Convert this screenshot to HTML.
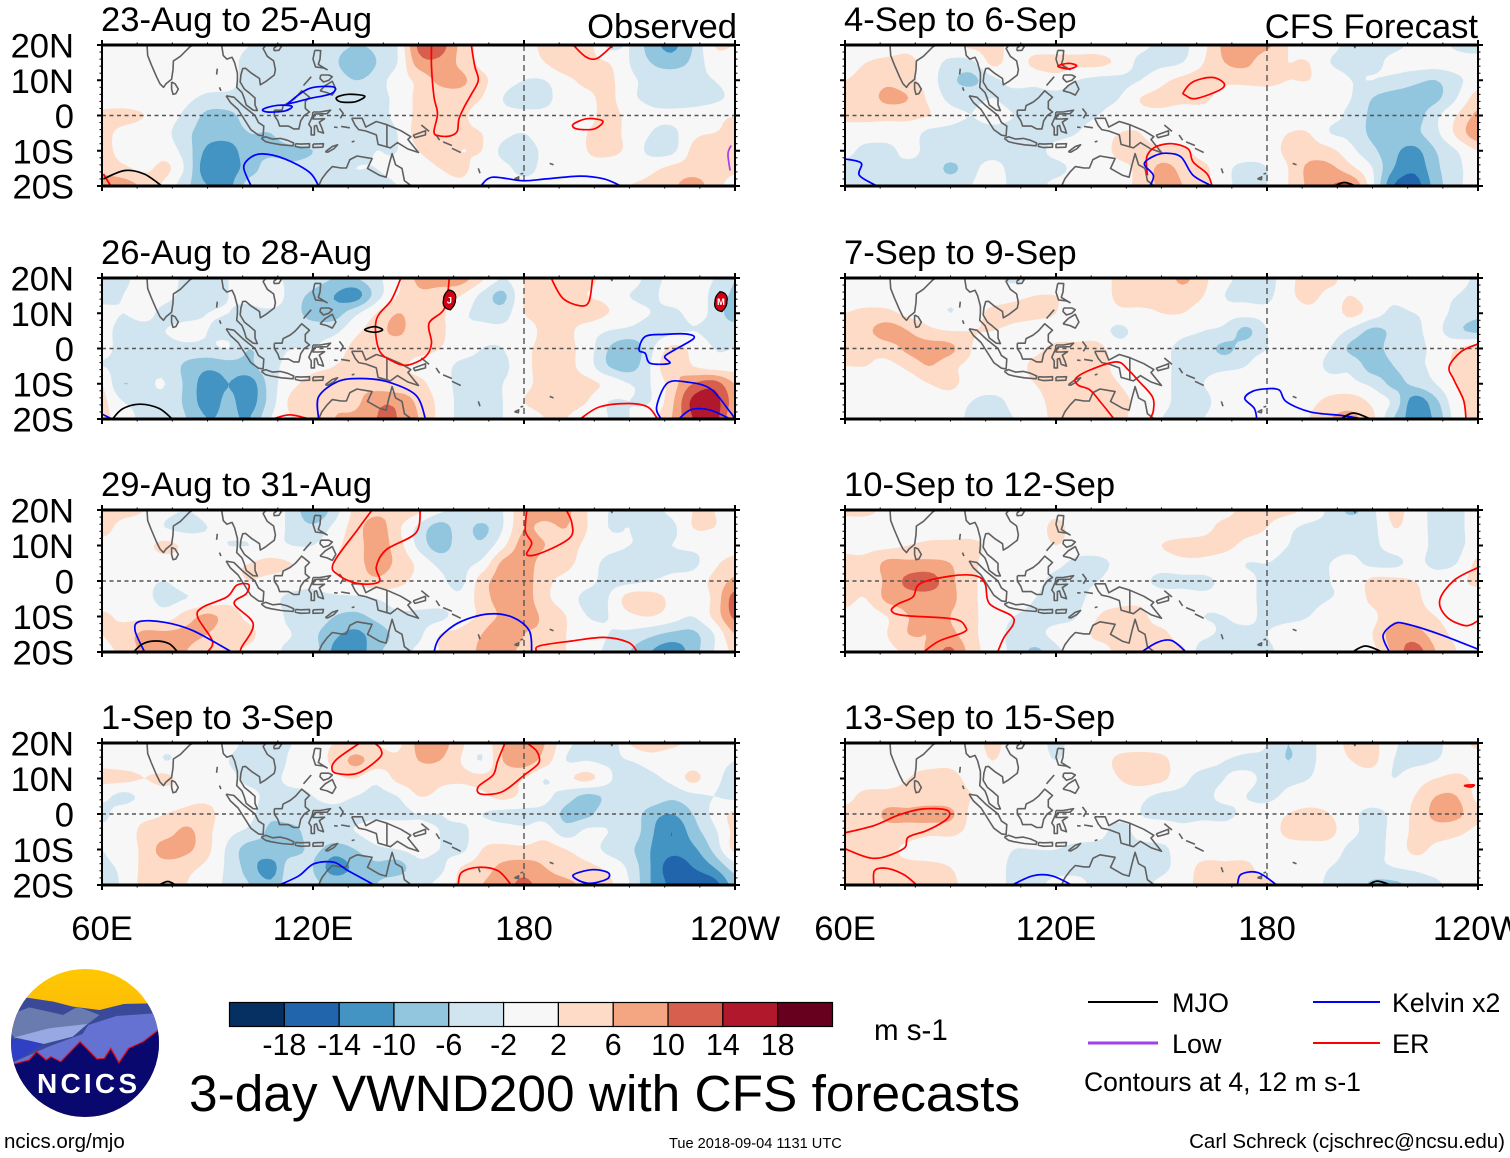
<!DOCTYPE html>
<html lang="en">
<head>
<meta charset="utf-8">
<title>3-day VWND200 with CFS forecasts</title>
<style>
html,body{margin:0;padding:0;background:#fff;width:1510px;height:1158px;overflow:hidden}
svg{display:block}
text{font-family:"Liberation Sans",Arial,sans-serif;fill:#000}
</style>
</head>
<body>
<svg id="chart" xmlns="http://www.w3.org/2000/svg" width="1510" height="1158" viewBox="0 0 1510 1158">
  <rect x="0" y="0" width="1510" height="1158" fill="#fff"/>
  <defs>
    <clipPath id="logoClip"><ellipse cx="85" cy="1043" rx="74" ry="74"/></clipPath>
    <linearGradient id="logoSky" x1="0" y1="0" x2="0" y2="1"><stop offset="0" stop-color="#ffc800"/><stop offset="1" stop-color="#f2a31c"/></linearGradient>
  </defs>
  <g id="panels"></g>
  <g id="colorbar"></g>
  <text x="874" y="1040" font-size="29.5">m s-1</text>
  <text x="189" y="1111" font-size="51.4">3-day VWND200 with CFS forecasts</text>

  <g clip-path="url(#logoClip)">
    <rect x="10" y="968" width="150" height="150" fill="url(#logoSky)"/>
    <g transform="translate(0 960) scale(0.4854 0.3333)">
      <polygon fill="#3b4a98" points="20,152 55,113 110,125 150,140 205,150 255,132 310,130 335,170 335,320 20,320"/>
      <polygon fill="#6a7bb0" points="20,210 20,165 60,142 100,155 130,165 160,140 205,165 175,198 100,205 30,235"/>
      <polygon fill="#98a8e2" points="30,232 100,205 180,192 150,230 90,252 60,242"/>
      <polygon fill="#6672d2" points="30,305 100,260 170,222 182,195 240,168 320,160 335,210 335,325 30,325"/>
      <polygon fill="#3040c4" points="20,235 60,242 90,252 30,305 20,310"/>
      <polygon fill="#08086e" stroke="#e01020" stroke-width="3" points="28,312 60,300 75,275 95,300 105,290 125,305 165,245 200,297 215,295 228,265 245,308 265,265 295,245 328,208 345,208 345,485 20,485 20,312"/>
    </g>
  </g>
  <text x="37" y="1093" font-size="28" font-weight="bold" textLength="100" lengthAdjust="spacing" style="fill:#fff">NCICS</text>

  <g>
    <line x1="1088" y1="1002" x2="1158" y2="1002" stroke="#000" stroke-width="2"/>
    <text x="1172" y="1012" font-size="27">MJO</text>
    <line x1="1313" y1="1002" x2="1380" y2="1002" stroke="#0000ff" stroke-width="2"/>
    <text x="1392" y="1012" font-size="26.7">Kelvin x2</text>
    <line x1="1088" y1="1043" x2="1158" y2="1043" stroke="#a040f0" stroke-width="3"/>
    <text x="1172" y="1053" font-size="27">Low</text>
    <line x1="1313" y1="1043" x2="1380" y2="1043" stroke="#ff0000" stroke-width="2"/>
    <text x="1392" y="1053" font-size="27">ER</text>
    <text x="1084" y="1091" font-size="26.5">Contours at 4, 12 m s-1</text>
  </g>
  <text x="4" y="1148" font-size="20.5">ncics.org/mjo</text>
  <text x="669" y="1148" font-size="14.6">Tue 2018-09-04 1131 UTC</text>
  <text x="1505" y="1148" font-size="20.5" text-anchor="end">Carl Schreck (cjschrec@ncsu.edu)</text>
</svg>
<script>
// Grid axes of the wind fields (degrees)
const gridLons = [60,66,72,78,84,90,96,102,108,114,120,126,132,138,144,150,156,162,168,174,180,186,192,198,204,210,216,222,228,234,240];
const gridLats = [20,15,10,5,0,-5,-10,-15,-20];

// Tick labels
const lonTicks = [60,120,180,240];
const lonTickLabels = ['60E','120E','180','120W'];
const latTicks = [20,10,0,-10,-20];
const latTickLabels = ['20N','10N','0','10S','20S'];

// Colour scale
const bandLevels = [2,6,10,14,18];
const colorbarColors = ['#053061','#2166ac','#4393c3','#92c5de','#d1e5f0','#f7f7f7','#fddbc7','#f4a582','#d6604d','#b2182b','#67001f'];
const colorbarLabels = ['-18','-14','-10','-6','-2','2','6','10','14','18'];

// Panel titles
const panelTitles = ['23-Aug to 25-Aug','26-Aug to 28-Aug','29-Aug to 31-Aug','1-Sep to 3-Sep','4-Sep to 6-Sep','7-Sep to 9-Sep','10-Sep to 12-Sep','13-Sep to 15-Sep'];

// VWND200 anomaly fields (m/s)
const fieldAug23 = [
[0,0,0,0,0,0,-1,-2,-3,-2,-3,-4,-6,-5,-2,11,12,5,1,2,1,3,6,4,-3,-2,-8,-11,-6,2,2],
[0,0,1,2,0,0,-1,-3,-3,-4,-3,-5,-10,-6,-2,8,9,5,1,1,0,2,5,3,2,-2,-6,-8,-5,0,0],
[0,0,0,1,1,0,-1,-3,-3,-4,-3,-3,-6,-4,0,3,7,7,3,0,-2,-2,1,3,3,-1,-3,-3,-3,-2,0],
[0,0,0,0,-1,-3,-3,-3,-3,-4,-4,-3,-3,-3,-1,3,4,4,2,-2,-4,-3,0,1,3,-1,-3,-4,-4,-3,-1],
[3,3,2,0,-3,-7,-7,-4,-3,-3,-3,-3,-3,-3,-1,3,4,3,0,-1,-1,-1,0,1,3,1,-1,-1,0,1,2],
[3,1,0,-1,-5,-8,-8,-6,-6,-3,-3,-3,-3,-3,-2,4,6,3,2,-1,-2,0,0,2,3,1,-2,-3,1,2,3],
[4,0,-2,0,-4,-11,-12,-7,-7,-7,-6,-3,-3,-2,-2,2,4,2,2,-3,-4,-1,0,2,3,1,-3,-3,3,6,4],
[5,3,1,3,-3,-13,-12,-8,-4,-5,-4,-3,-2,-2,-1,0,2,3,0,-1,-3,-1,0,1,0,0,1,3,4,4,3],
[8,8,5,1,-5,-10,-11,-4,-4,-4,-3,-2,-3,-3,-2,0,0,1,0,-1,-1,-1,-1,0,0,2,3,5,8,4,0]];
const fieldAug26 = [
[-3,-3,0,0,-3,-3,-2,-1,-1,-3,-4,-6,-6,-3,1,7,8,8,3,-2,2,3,6,3,1,0,-3,-1,-1,-2,-6],
[-3,-2,0,-1,-3,-3,-2,-1,1,-4,-7,-10,-12,-4,2,5,4,2,-3,-7,2,3,4,2,1,-2,-3,0,0,-3,-7],
[-1,-2,-1,-3,-3,-2,-2,-3,-3,-4,-8,-8,-3,2,6,4,3,-1,-3,-4,2,3,3,4,2,0,-2,-3,-1,-3,-9],
[-1,-3,-3,-2,-1,-2,-3,-3,-3,-3,-3,-3,1,4,7,3,3,-1,-1,-1,0,3,3,0,-2,-3,-4,-3,-2,-3,-3],
[-1,-3,-3,-3,-3,-3,-2,-6,-3,-2,-2,0,3,4,3,3,2,0,-2,-2,1,3,3,0,-6,-9,-3,3,1,-2,-2],
[-2,-3,-3,-3,-7,-9,-8,-7,-3,-1,1,2,3,3,3,1,0,-3,-3,-3,1,3,3,0,-6,-8,-2,6,2,0,0],
[2,-6,-3,-2,-7,-12,-10,-12,-4,1,3,3,5,4,3,3,0,-3,-3,-2,1,3,3,3,1,-2,-2,4,10,12,6],
[3,-2,-3,-3,-7,-12,-9,-12,-4,3,3,5,5,9,9,5,1,-3,-3,-2,2,3,3,2,-2,-2,-2,5,15,16,8],
[3,0,-3,-3,-6,-10,-9,-10,-2,2,3,6,7,10,10,6,1,-3,-3,-2,0,2,2,0,-2,-2,1,6,14,16,6]];
const fieldAug29 = [
[3,3,2,-1,-2,-1,-1,0,-1,-3,-10,-4,3,5,5,3,-1,-3,-2,-2,6,8,7,2,-2,-2,-3,-1,2,2,0],
[3,1,0,-2,-3,-2,-1,0,0,-3,-5,-1,4,8,3,-3,-8,-4,-7,-2,6,5,6,2,-2,-2,-3,-3,2,2,0],
[1,1,1,3,1,-1,-2,-2,-1,-2,-2,1,4,8,4,-3,-8,-4,-5,1,8,6,4,1,-1,-2,-2,-2,-1,-1,0],
[0,0,0,0,0,-1,1,2,3,2,1,2,4,8,5,1,-3,-3,-1,7,8,4,3,0,-3,-3,-3,-3,-3,1,4],
[0,0,-1,-2,0,1,1,2,1,0,-1,1,3,5,3,1,-1,-3,4,8,8,3,1,-1,-3,-3,-2,-1,0,3,7],
[-1,0,-1,-3,-2,-1,1,0,-1,-3,-3,-3,-3,-2,0,0,0,-1,4,8,8,3,0,-3,-2,4,4,1,-1,3,12],
[3,1,1,0,4,7,4,1,0,-3,-3,-6,-7,-5,-3,-3,-3,0,3,7,8,5,2,-2,-2,1,2,0,-2,3,11],
[2,4,7,7,7,6,3,3,-1,-2,-5,-9,-11,-8,-5,-3,2,3,6,10,6,5,2,0,-2,-3,-5,-7,-7,-2,6],
[1,3,7,8,6,3,3,1,-1,-3,-4,-11,-13,-7,-4,-1,2,3,7,7,5,3,2,0,-3,-6,-10,-13,-8,-2,3]];
const fieldSep1 = [
[1,0,0,-1,-1,-1,-1,-3,-4,-2,1,2,3,2,1,7,8,3,-1,6,8,6,-1,-3,-5,2,4,3,1,0,-1],
[1,0,0,-2,-1,-1,-2,-4,-5,-1,0,3,7,4,3,6,6,2,-2,6,8,4,-2,-2,-3,-2,0,-1,0,-1,-2],
[3,3,2,3,0,-1,-1,-3,-3,-1,-1,1,2,-1,3,4,3,3,3,3,2,-2,1,3,-1,-6,-3,-1,3,-1,-3],
[-1,-3,-1,0,1,1,0,-1,-3,-3,-2,-1,-2,-3,-2,2,1,-1,1,3,1,-1,-4,-7,-5,-3,-3,-5,-3,-2,-3],
[-3,0,1,2,3,3,0,-1,-5,-3,-3,-3,-3,-3,-3,-2,-2,-1,-2,-3,-3,-3,-7,-7,-3,-3,-8,-10,-6,-1,3],
[-1,0,3,4,7,3,-1,-3,-7,-8,-3,-3,-2,0,0,-1,-2,-3,0,0,-1,0,-4,-1,-2,-3,-9,-14,-8,-3,3],
[-2,0,3,8,7,3,-3,-8,-7,-8,-5,-8,-6,-3,-2,-1,-2,-3,2,3,3,4,2,0,-3,-5,-10,-13,-11,-5,3],
[-3,-1,3,4,3,1,-3,-8,-12,-3,-6,-12,-9,-7,-8,-3,-3,2,4,7,8,6,4,3,1,-3,-10,-16,-14,-10,-4],
[-6,-1,3,3,2,0,-3,-6,-9,-3,-5,-7,-7,-6,-3,-3,-1,3,6,8,11,8,7,5,3,-2,-10,-15,-17,-16,-8]];
const fieldSep4 = [
[0,0,0,1,0,1,3,3,1,0,-1,0,0,-1,-1,-3,-3,1,7,8,7,2,0,-1,-3,-3,-3,-1,0,-3,-4],
[1,2,3,3,0,-3,-3,3,0,3,4,3,3,1,-3,-3,-2,2,6,7,3,2,2,-2,-3,-3,-1,0,0,0,0],
[2,3,5,3,0,-5,-7,-3,-1,-1,0,-2,-3,-3,-2,1,3,4,3,3,3,2,2,0,-2,-2,-3,-5,-6,-3,0],
[3,4,7,6,1,-3,-3,-2,-3,-3,-3,-3,-3,-2,2,3,3,3,0,0,0,0,0,-1,-2,-6,-8,-8,-7,-2,4],
[3,3,3,3,2,-1,-2,-1,-2,-3,-3,-3,-2,0,1,1,0,0,0,0,0,0,0,-1,-3,-7,-9,-8,-3,2,7],
[0,0,0,0,-3,-3,-3,-3,-3,-3,-3,-2,0,2,2,0,0,0,0,0,0,2,2,-2,-3,-7,-8,-7,-3,3,9],
[-1,-3,-3,-1,-3,-3,-3,-3,-3,-3,-1,0,0,3,3,3,3,0,0,0,0,3,4,3,-1,-5,-9,-11,-6,-2,2],
[-3,-3,-2,-3,-3,-7,-3,-1,-3,-3,-3,-1,0,1,3,7,5,3,-1,-3,-2,2,7,7,3,-2,-10,-13,-7,-3,0],
[-3,-3,-3,-3,-3,-3,-2,0,-3,-3,-1,0,0,1,3,7,6,3,-1,-3,-2,2,7,10,10,-1,-14,-16,-8,-3,0]];
const fieldSep7 = [
[0,0,0,1,0,0,0,-1,-3,-1,0,0,0,3,3,3,7,3,-1,-3,-4,1,3,3,0,0,0,0,0,0,-3],
[0,0,0,0,0,-1,0,0,1,2,2,1,0,3,4,3,4,2,-2,-3,-3,1,3,1,2,0,-1,1,-1,-2,-4],
[2,3,3,1,0,-2,0,3,3,3,2,-1,0,1,1,2,2,0,-1,-1,-1,0,1,0,3,0,-3,-2,-1,-3,-5],
[3,5,8,6,3,2,2,2,1,0,0,0,0,-3,0,0,-1,-2,-3,-7,-2,0,0,0,-3,-7,-5,-3,-1,-5,-7],
[5,3,4,7,8,7,2,0,0,1,3,3,3,0,0,-1,-3,-4,-7,-4,-2,0,0,-2,-7,-8,-4,-3,-1,2,4],
[2,2,1,3,6,3,1,0,0,3,3,3,3,1,0,-1,-3,-3,-3,-2,0,-1,0,-3,-3,-8,-6,-3,-1,3,3],
[0,0,0,0,2,3,0,0,0,2,3,4,3,2,0,-1,-3,-2,0,0,0,-2,0,0,-1,-3,-7,-5,-2,2,3],
[0,0,0,0,0,0,-2,-3,-1,1,3,4,4,3,1,-1,-3,-3,0,0,0,0,1,3,4,1,-3,-12,-7,1,3],
[-1,0,0,0,0,0,-3,-3,-2,0,3,3,3,3,0,-2,-3,-2,0,0,0,0,2,6,7,3,-6,-12,-9,0,3]];
const fieldSep10 = [
[3,3,1,0,0,-2,0,1,0,0,1,0,0,0,0,0,0,1,1,3,3,3,1,-3,-7,-3,3,0,-3,-3,0],
[0,0,0,0,0,0,0,0,0,0,3,0,0,0,0,0,0,1,3,3,2,-1,-3,-3,-3,-3,2,0,-3,-3,0],
[1,1,1,2,3,3,3,1,0,0,2,0,0,0,0,2,3,3,3,1,0,-2,-3,-3,-3,-3,0,0,-3,-3,0],
[3,3,7,7,7,6,3,0,0,0,-1,-3,-3,-1,0,0,1,1,0,-2,-2,-3,-3,-2,-1,-3,-3,-1,-3,-2,3],
[3,3,7,11,12,7,3,0,0,-1,-3,-3,-2,0,-1,-3,-3,-3,-1,-1,-3,-3,-3,-2,-1,3,3,2,0,1,3],
[3,2,7,8,8,7,3,0,0,-2,-3,-3,0,1,1,0,0,-1,-1,-1,-3,-3,-3,-2,-1,3,4,3,0,0,0],
[1,0,2,6,7,6,3,0,-2,-3,-3,-2,2,3,3,0,0,-2,-2,-1,-3,-3,-2,0,0,1,5,4,2,0,0],
[0,0,2,6,6,7,3,0,-3,-3,-1,0,3,3,3,3,0,-1,-3,-3,-2,0,0,0,0,2,8,8,4,1,0],
[0,0,1,3,7,11,4,0,-3,-7,-3,0,0,3,3,3,3,-5,-6,-3,-3,0,0,0,0,1,7,12,6,2,0]];
const fieldSep13 = [
[0,0,0,0,0,-1,0,3,0,0,-3,0,0,0,0,0,0,0,1,0,-2,-6,-3,0,3,3,-1,-5,-3,0,3],
[0,0,0,1,1,1,0,2,0,0,-2,0,0,3,4,3,0,-1,-2,-3,-3,-6,-3,0,2,3,-2,-3,-2,0,0],
[0,0,1,2,3,3,1,0,0,0,0,0,0,2,4,3,-1,-3,-2,-1,-3,-3,-2,0,0,0,-2,0,2,3,1],
[1,3,3,3,3,3,2,0,0,0,0,0,0,0,-1,-3,-3,-3,-1,-2,-3,-1,0,0,0,0,0,2,6,6,1],
[3,3,7,7,8,7,1,0,0,0,0,0,-1,-1,-2,-3,-3,-3,-3,-1,0,2,3,2,-1,-3,-1,3,7,7,3],
[3,3,4,4,3,3,1,0,0,0,0,0,-1,-3,-1,0,-1,0,0,0,0,3,4,3,-1,-3,-1,3,4,3,1],
[4,3,3,1,0,0,0,0,-2,-2,-2,-3,-3,-3,-3,-3,0,0,0,0,0,0,0,0,-3,-3,-1,3,1,0,0],
[3,3,3,3,3,2,0,0,-3,-3,-3,-3,-3,-3,-3,-3,0,3,3,3,0,0,0,-2,-3,-3,-2,-1,0,0,0],
[3,3,3,3,3,3,0,0,-3,-3,-1,-1,-3,-3,-3,-1,1,3,4,3,3,0,0,-3,-3,-7,-7,-5,-3,0,0]];

// Wave-filtered contours, lon/lat vertices
const contoursAug23 = [
{wave:'er',closed:false,pts:[[165,20],[166,14],[167,10],[165,6],[163,2.4],[161.5,-1],[161,-4.5],[159,-5.8],[156,-5.8],[154.4,-4.7],[155.4,0.5],[154.4,5.3],[153.7,13.8],[153.7,20]]},
{wave:'er',closed:false,pts:[[194,20],[197.5,16.7],[200.8,16.2],[205.3,20]]},
{wave:'er',closed:true,pts:[[194,-2.5],[198,-0.9],[202.4,-1.6],[200,-3.8],[195,-3.8]]},
{wave:'er',closed:false,pts:[[60.4,-16.6],[62.5,-20]]},
{wave:'kelvin',closed:true,pts:[[105.8,1.8],[110,2.9],[114,2.6],[112,1.3],[107,1]]},
{wave:'kelvin',closed:true,pts:[[113.4,3.9],[119,7.7],[125.8,8.1],[125.2,6.2],[119,4.8],[113.4,3.4]]},
{wave:'kelvin',closed:false,pts:[[102.4,-20],[100.3,-14.7],[102.4,-11.8],[105.8,-10.9],[112,-12.3],[119,-16.1],[121.6,-20]]},
{wave:'kelvin',closed:false,pts:[[167.7,-20],[171,-17.5],[179.4,-18.5],[186.3,-18],[196,-17.2],[202.8,-18],[207.6,-20]]},
{wave:'mjo',closed:true,pts:[[126.7,5.1],[130,6],[134.7,5.5],[132,3.9],[127.8,3.9]]},
{wave:'mjo',closed:false,pts:[[60.4,-18],[66.5,-15.6],[72,-16.6],[77,-20]]},
{wave:'low',closed:false,pts:[[238.9,-8.5],[238,-10.9],[238.6,-15.6]]}];
const contoursAug26 = [
{wave:'er',closed:false,pts:[[145,20],[142.3,13.8],[138,8.1],[138.8,-0.4],[143,-3.8],[147,-4.7],[152,-2.3],[153.7,1.5],[153,7.2],[157.4,11.4],[158.8,20]]},
{wave:'er',closed:false,pts:[[187.7,20],[191,14.3],[196,12.1],[198.5,13.4],[199.5,20]]},
{wave:'er',closed:false,pts:[[108.6,-20],[113.4,-18.8],[118.9,-20]]},
{wave:'er',closed:false,pts:[[196,-20],[201.4,-16.6],[209.7,-15.6],[215.2,-16.6],[218,-20]]},
{wave:'mjo',closed:true,pts:[[134.7,5.3],[137.5,6.2],[139.8,5.3],[137.5,4.6]]},
{wave:'mjo',closed:false,pts:[[63,-20],[65.9,-17.1],[70.7,-15.8],[76.2,-17],[80,-20]]},
{wave:'kelvin',closed:false,pts:[[60,-18.6],[62.8,-20]]},
{wave:'kelvin',closed:false,pts:[[121.6,-20],[121.6,-13.7],[127,-9.4],[133.4,-8.5],[141,-9.4],[149.2,-13.2],[152,-20]]},
{wave:'kelvin',closed:false,pts:[[219,-20],[217.7,-16.6],[220.7,-9.9],[226.2,-9.5],[233,-11.4],[238.6,-18],[240,-20]]},
{wave:'kelvin',closed:false,pts:[[224,-20],[227.6,-17.3],[233,-17.5],[238.6,-20]]},
{wave:'kelvin',closed:true,pts:[[214.5,3.4],[220,4],[226.2,4.1],[228.3,2.9],[222.8,-0.4],[220,-2.3],[221.4,-4.2],[215.9,-4.2],[214.5,-1.4],[212.7,-0.4]]}];
const contoursAug29 = [
{wave:'er',closed:false,pts:[[136.8,20],[132.7,14.5],[125.8,5],[127.2,1.7],[132.7,-0.7],[138.8,-0.2],[138,4],[140.8,8.8],[149.2,13.5],[150.5,20]]},
{wave:'er',closed:false,pts:[[180.8,20],[180.4,14],[182.2,10.7],[180.8,7.4],[184.9,7.9],[193,12.1],[193.6,16.4],[192,20]]},
{wave:'er',closed:false,pts:[[90,-20],[91.4,-16.9],[87.2,-10.2],[88.6,-7.4],[95.5,-4.5],[98.3,-1.2],[101.7,-1],[101,-3.6],[97.6,-6.4],[103,-12.1],[99.6,-18.8],[99.6,-20]]},
{wave:'er',closed:false,pts:[[183.6,-20],[184.3,-18.3],[193.6,-16.9],[202.8,-15.9],[209.7,-17.3],[212.2,-20]]},
{wave:'kelvin',closed:false,pts:[[72.1,-20],[69.4,-14],[70.7,-11.4],[77.6,-11.6],[85.9,-14],[96.9,-20]]},
{wave:'kelvin',closed:false,pts:[[154.4,-20],[156,-16],[161.7,-11.6],[169.8,-9.3],[176.7,-10.2],[181.5,-14],[182.2,-20]]},
{wave:'mjo',closed:false,pts:[[69,-20],[71.4,-17.8],[74.9,-16.9],[79,-17.6],[81.5,-20]]}];
const contoursSep1 = [
{wave:'er',closed:false,pts:[[133.3,20],[127.2,15.8],[125.4,13.4],[126.5,11.5],[132.7,11.5],[138.9,15.8],[139.3,18.2],[137.5,20]]},
{wave:'er',closed:false,pts:[[174.6,20],[172.5,14.9],[171.2,11],[167,7.7],[167.8,5.6],[173.9,6.3],[180.1,11],[184.2,14.4],[183.6,17.7],[180.8,20]]},
{wave:'er',closed:false,pts:[[161.3,-20],[162.2,-16.5],[167,-15],[172.6,-16],[176.4,-20]]},
{wave:'kelvin',closed:false,pts:[[110.4,-20],[116,-17.4],[120.3,-14],[126,-13.6],[130,-16],[137.5,-20]]},
{wave:'kelvin',closed:true,pts:[[193.9,-17.3],[199.4,-15.7],[203.9,-16.5],[203.5,-18.4],[198,-19.5]]},
{wave:'mjo',closed:false,pts:[[76.2,-20],[78.7,-19],[81,-20]]}];
const contoursSep4 = [
{wave:'er',closed:true,pts:[[120.5,14],[123.6,14.8],[125.9,14.1],[123.6,13.2]]},
{wave:'er',closed:true,pts:[[156.3,6.7],[159,9.6],[164.4,10.8],[167.8,9.1],[166.5,7.2],[159.7,4.8],[156.7,5.8]]},
{wave:'er',closed:false,pts:[[146,-17],[145.8,-11.8],[148.1,-9],[152.9,-8],[157.6,-9.5],[159,-13.2],[163,-16.6],[164.4,-20]]},
{wave:'kelvin',closed:false,pts:[[146.7,-20],[147.7,-17],[145.1,-13.7],[148.1,-11.4],[151.5,-10.7],[155.6,-11.8],[159,-17],[164.4,-20]]},
{wave:'kelvin',closed:false,pts:[[60,-12.3],[64.6,-13.5],[64.1,-17],[69.1,-20]]},
{wave:'mjo',closed:false,pts:[[199.2,-20],[202,-19],[205.3,-20]]}];
const contoursSep7 = [
{wave:'er',closed:false,pts:[[136.5,-20],[133,-15.6],[129.7,-11.8],[126.3,-10.4],[125.6,-8.5],[129.7,-6.1],[137.2,-3.8],[140.6,-6.1],[143.3,-9],[147.4,-13.7],[147.7,-17.6],[146.7,-20]]},
{wave:'er',closed:false,pts:[[240,1.3],[235.2,-0.9],[231.8,-5.2],[233.2,-9],[235.9,-14.7],[236.6,-20]]},
{wave:'kelvin',closed:false,pts:[[177.1,-20],[176.4,-17],[173.7,-14.2],[176,-12.1],[180.1,-11.4],[183.5,-11.8],[185.5,-15.1],[192.3,-18],[201.2,-19],[207.3,-20]]},
{wave:'mjo',closed:false,pts:[[201,-20],[204.6,-18.3],[209.4,-20]]}];
const contoursSep10 = [
{wave:'er',closed:false,pts:[[82.3,-20],[86.8,-16.9],[93.6,-14.5],[94.3,-13],[90.9,-10.7],[76.6,-9.7],[73.2,-8.3],[75.2,-6.4],[79.3,-4.5],[81.4,-0.7],[90.2,1.4],[97,1.5],[99.8,-0.7],[101.1,-6.4],[107.2,-9.7],[107.9,-12.1],[105.2,-15.9],[103.4,-20]]},
{wave:'er',closed:false,pts:[[240,3.8],[233.2,0.2],[229.1,-5.5],[231.2,-10.2],[236.6,-12.6],[240,-11.2]]},
{wave:'kelvin',closed:false,pts:[[144.3,-20],[148.8,-17.3],[152.9,-16.8],[157,-20]]},
{wave:'kelvin',closed:false,pts:[[214.8,-20],[213,-15.4],[216.1,-12.1],[219.6,-12.1],[229.1,-15],[240,-19.2]]},
{wave:'mjo',closed:false,pts:[[204.3,-20],[208,-18.3],[212.8,-20]]}];
const contoursSep13 = [
{wave:'er',closed:false,pts:[[60,-5.3],[68.4,-3.2],[75.2,-0.3],[82,1.4],[88.9,1.1],[89.1,-1.3],[83.4,-4.6],[78,-6.5],[76.6,-9.8],[68.4,-12.5],[60,-9.8]]},
{wave:'er',closed:false,pts:[[68.2,-20],[68.4,-16],[71.8,-15.3],[76.6,-17],[80.4,-20]]},
{wave:'er',closed:true,pts:[[236.2,8],[238.9,8.2],[238,7.6]]},
{wave:'kelvin',closed:false,pts:[[107.5,-20],[113.4,-17.4],[118.8,-17.4],[124.5,-20]]},
{wave:'kelvin',closed:false,pts:[[171.6,-20],[172.6,-17],[177.4,-16.5],[182.8,-20]]},
{wave:'mjo',closed:false,pts:[[208.7,-20],[211.4,-18.9],[215.2,-20]]}];

// Tropical cyclones in the 26-Aug panel
const stormNames = ['J','M'];
const stormLons = [158.8,236];
const stormLats = [13.8,13.3];

// Coastlines (lon/lat)
const coastIndia = [[72.8,20],[73,17],[74,14.5],[75.5,11],[76.5,9],[77.5,8],[78.2,9],[79.8,10.3],[80.2,13],[80.3,15.5],[82.3,16.8],[85,19.5],[86,20]];
const coastSriLanka = [[79.8,9.5],[80.8,9],[81.7,7.5],[81,6.2],[80.2,6],[79.8,7.5],[79.8,9.5]];
const coastIndochina = [[94,20],[94.5,17],[95.5,16],[97,16.5],[97.7,15],[98.5,12],[98.5,10],[98.3,8],[99.8,6.5],[100.4,5],[101,3],[103,1.5],[104.2,1.4],[103.5,3],[103.5,5],[102,6.3],[100.5,7.5],[99.3,9.5],[99.5,11.5],[100,13.3],[100.8,13.4],[102.5,12],[104.8,10.5],[105,8.7],[106.5,9.6],[109,11.5],[109.3,13],[108.8,15.5],[107,16.8],[105.8,19],[106.7,20]];
const coastHainan = [[108.8,19],[110,20],[111,19.6],[110.3,18.5],[109,18.4],[108.8,19]];
const coastSumatra = [[95.3,5.6],[97.5,5.2],[100,2.8],[103.5,0],[104.5,-2],[106,-3],[105.8,-5.8],[104.5,-5.6],[102.3,-4],[100.4,-1],[98.7,1.7],[96.5,3.7],[95.3,5.6]];
const coastJava = [[105.3,-6.5],[106.5,-6],[108.5,-6.7],[110.7,-6.5],[112.7,-7],[114.5,-7.8],[114.3,-8.6],[111,-8.3],[108,-7.8],[106.5,-7.4],[105.3,-6.5]];
const coastSundaA = [[115,-8],[116.5,-8.1],[119,-8],[119,-9],[116.5,-9.1],[115,-8.8],[115,-8]];
const coastFlores = [[120,-8.1],[123,-8],[122.8,-9],[120,-9.1],[120,-8.1]];
const coastTimor = [[123.5,-10.3],[125.5,-8.8],[127,-8.3],[126,-9.4],[124.2,-10.4],[123.5,-10.3]];
const coastBorneo = [[109,1.5],[111.2,1.5],[111.5,2.8],[113.5,3.8],[115,5],[116.8,7],[119,5.2],[117.8,4],[117.8,2],[119,1],[117.5,0],[116.5,-1.5],[116,-3.8],[114.5,-3.8],[113,-3],[110.5,-3],[110,-1.5],[109,0],[109,1.5]];
const coastSulawesi = [[120,1],[122,1],[125,1.5],[124,0.5],[120.5,0.4],[120,-1],[121.5,-1],[123.3,-0.9],[121.8,-1.9],[122.5,-3.5],[123,-5],[121.5,-4.5],[121,-2.8],[120.4,-3],[120.4,-5.5],[119.5,-5.5],[119.5,-3.5],[118.8,-2.5],[119.8,-0.3],[120,1]];
const coastLuzon = [[120.5,18.5],[122.2,18.4],[122,16],[121.5,14.5],[124,13],[123,13.5],[120.7,13.8],[120,16],[120.5,18.5]];
const coastMindanao = [[122,7],[123.5,8.5],[125.5,9.7],[126.5,7.5],[125.5,5.8],[124,6.5],[122,7]];
const coastVisayas = [[122.2,11.5],[124.5,11.5],[125.5,11],[124.5,10],[123,9.5],[122,10.5],[122.2,11.5]];
const coastPalawan = [[117.3,8.5],[119.5,11]];
const coastNewGuinea = [[131,-0.8],[134,-0.8],[135,-3.3],[138,-1.7],[141,-2.6],[145,-4.3],[147.8,-6],[147,-6.8],[150,-10.5],[147,-9.5],[144,-7.7],[142,-9.2],[138.5,-8.2],[138,-5.5],[135,-4.4],[133,-4],[132,-2.8],[131,-0.8]];
const borderPapua = [[141,-2.6],[141,-9.1]];
const coastNewBritain = [[148.5,-5.6],[152,-4.3],[152,-5.5],[149,-6.3],[148.5,-5.6]];
const coastNewIreland = [[150.8,-2.7],[153,-4.5]];
const coastSolomonA = [[155,-5.5],[156,-7]];
const coastSolomonB = [[157,-7.5],[159.5,-8.5]];
const coastSolomonC = [[159.5,-9.3],[161,-10],[162,-10.5]];
const coastVanuatu = [[167,-15],[167.5,-16.4]];
const coastFiji = [[177.3,-18],[178.5,-17.4],[178.4,-18.2],[177.3,-18]];
const coastFijiB = [[179,-16.6],[179.8,-16.4]];
const coastSamoa = [[187.3,-13.6],[188.4,-14]];
const coastHawaii = [[204.6,20],[205,19.3],[205.2,20]];
const coastAndaman = [[92.8,13.3],[92.6,11.6]];
const coastNicobar = [[93.4,8],[93.8,7]];
const coastHalmahera = [[127.5,2],[128.6,0.6],[127.8,-0.8]];
const coastSeram = [[128,-3.1],[130.5,-3.5]];
const coastBuru = [[126,-3.3],[127,-3.4]];
const coastBanda = [[131,-7.5],[131.8,-7.3]];
const coastAustralia = [[121.6,-20],[122.5,-18],[124,-16],[125.5,-14.5],[128,-14.9],[129.5,-14.9],[130.5,-12.5],[132.5,-11.5],[135.5,-12],[136.8,-12.2],[135.5,-15],[139,-17],[140.8,-17.5],[141.6,-14],[142.5,-10.8],[143.5,-14],[145.3,-15],[146,-18.5],[148,-20]];

const coastlines = [coastIndia,coastSriLanka,coastIndochina,coastHainan,coastSumatra,coastJava,coastSundaA,coastFlores,coastTimor,coastBorneo,coastSulawesi,coastLuzon,coastMindanao,coastVisayas,coastPalawan,coastNewGuinea,borderPapua,coastNewBritain,coastNewIreland,coastSolomonA,coastSolomonB,coastSolomonC,coastVanuatu,coastFiji,coastFijiB,coastSamoa,coastHawaii,coastAndaman,coastNicobar,coastHalmahera,coastSeram,coastBuru,coastBanda,coastAustralia];

const panelFields = [fieldAug23,fieldAug26,fieldAug29,fieldSep1,fieldSep4,fieldSep7,fieldSep10,fieldSep13];
const panelContours = [contoursAug23,contoursAug26,contoursAug29,contoursSep1,contoursSep4,contoursSep7,contoursSep10,contoursSep13];

const NS = 'http://www.w3.org/2000/svg';
const PANEL_W = 633;
const FRAME_LEFT = [102,845];
const FRAME_TOP = [45,278,510,743];
const FRAME_BOTTOM = [186,419,652,885];
const WAVE_COLOR = {er:'#ff0000',kelvin:'#0000ff',mjo:'#000000',low:'#a040f0'};
const SUB = 5;

function make(tag, attrs, parent){
  const el = document.createElementNS(NS, tag);
  for (const k in attrs) el.setAttribute(k, attrs[k]);
  parent.appendChild(el);
  return el;
}
function xAxis(lon, left){ return left + (lon - 60) / 180 * PANEL_W; }
function yAxis(lat, top, bottom){ return top + (20 - lat) / 40 * (bottom - top); }

function cubic(a,b,c,d,t){
  return b + 0.5*t*(c-a + t*(2*a-5*b+4*c-d + t*(3*(b-c)+d-a)));
}
function upsample(field){
  const nr = field.length, nc = field[0].length, out = [];
  const at = (r,c)=>field[Math.max(0,Math.min(nr-1,r))][Math.max(0,Math.min(nc-1,c))];
  for (let j=0;j<=(nr-1)*SUB;j++){
    const r0=Math.min(Math.floor(j/SUB),nr-2), ty=j/SUB-r0, row=[];
    for (let i=0;i<=(nc-1)*SUB;i++){
      const c0=Math.min(Math.floor(i/SUB),nc-2), tx=i/SUB-c0, col=[];
      for (let q=-1;q<=2;q++){
        col.push(cubic(at(r0+q,c0-1),at(r0+q,c0),at(r0+q,c0+1),at(r0+q,c0+2),tx));
      }
      row.push(cubic(col[0],col[1],col[2],col[3],ty));
    }
    out.push(row);
  }
  return out;
}
function bandPath(grid, level, sign, left, top, bottom){
  const nj=grid.length-1, ni=grid[0].length-1;
  const dx=PANEL_W/ni, dy=(bottom-top)/nj;
  const parts=[];
  for (let j=0;j<nj;j++){
    for (let i=0;i<ni;i++){
      const corners=[[i,j],[i+1,j],[i+1,j+1],[i,j+1]].map(p=>({x:p[0],y:p[1],v:sign*grid[p[1]][p[0]]-level}));
      if (corners.every(c=>c.v<0)) continue;
      const poly=[];
      for (let k=0;k<4;k++){
        const a=corners[k], b=corners[(k+1)%4];
        if (a.v>=0) poly.push([a.x,a.y]);
        if ((a.v>=0)!==(b.v>=0)){
          const t=a.v/(a.v-b.v);
          poly.push([a.x+(b.x-a.x)*t,a.y+(b.y-a.y)*t]);
        }
      }
      parts.push('M'+poly.map(p=>(left+p[0]*dx).toFixed(1)+' '+(top+p[1]*dy).toFixed(1)).join('L')+'Z');
    }
  }
  return parts.join('');
}
function smoothPath(pts, closed, left, top, bottom){
  const P=pts.map(p=>[xAxis(p[0],left),yAxis(p[1],top,bottom)]);
  const n=P.length;
  const get=i=>closed?P[(i+n)%n]:P[Math.max(0,Math.min(n-1,i))];
  let d='M'+P[0][0].toFixed(1)+' '+P[0][1].toFixed(1);
  const last=closed?n:n-1;
  for (let i=0;i<last;i++){
    const p0=get(i-1),p1=get(i),p2=get(i+1),p3=get(i+2);
    d+='C'+(p1[0]+(p2[0]-p0[0])/6).toFixed(1)+' '+(p1[1]+(p2[1]-p0[1])/6).toFixed(1)+' '+
      (p2[0]-(p3[0]-p1[0])/6).toFixed(1)+' '+(p2[1]-(p3[1]-p1[1])/6).toFixed(1)+' '+
      p2[0].toFixed(1)+' '+p2[1].toFixed(1);
  }
  return closed?d+'Z':d;
}
function straightPath(pts,left,top,bottom){
  return 'M'+pts.map(p=>xAxis(p[0],left).toFixed(1)+' '+yAxis(p[1],top,bottom).toFixed(1)).join('L');
}

const root = document.getElementById('panels');
const defs = document.querySelector('defs');

panelFields.forEach((field, idx)=>{
  const colIdx = idx < 4 ? 0 : 1;
  const rowIdx = idx % 4;
  const left = FRAME_LEFT[colIdx], top = FRAME_TOP[rowIdx], bottom = FRAME_BOTTOM[rowIdx];
  const right = left + PANEL_W;

  const g = make('g', {}, root);
  
  

  const cp = make('clipPath', {id:'clip'+idx}, defs);
  make('rect', {x:left,y:top,width:PANEL_W,height:bottom-top}, cp);

  const bg = make('rect', {x:left,y:top,width:PANEL_W,height:bottom-top,fill:colorbarColors[5]}, g);
  
  

  const inner = make('g', {'clip-path':'url(#clip'+idx+')'}, g);
  
  

  const grid = upsample(field);
  bandLevels.forEach((level, li)=>{
    const pos = make('path', {d:bandPath(grid,level,1,left,top,bottom),fill:colorbarColors[6+li]}, inner);
    
    
    const neg = make('path', {d:bandPath(grid,level,-1,left,top,bottom),fill:colorbarColors[4-li]}, inner);
    
    
  });

  coastlines.forEach(line=>{
    const c = make('path', {d:straightPath(line,left,top,bottom),fill:'none',stroke:'#606060','stroke-width':1.6,'stroke-linejoin':'round'}, inner);
    
    
  });

  const eq = make('line', {x1:left,x2:right,y1:yAxis(0,top,bottom),y2:yAxis(0,top,bottom),stroke:'#555','stroke-width':1.4,'stroke-dasharray':'4 3.5'}, inner);
  
  
  const dl = make('line', {x1:xAxis(180,left),x2:xAxis(180,left),y1:top,y2:bottom,stroke:'#555','stroke-width':1.4,'stroke-dasharray':'6 4'}, inner);
  
  

  panelContours[idx].forEach(ct=>{
    const p = make('path', {d:smoothPath(ct.pts,ct.closed,left,top,bottom),fill:'none',stroke:WAVE_COLOR[ct.wave],'stroke-width':1.7}, inner);
    
    
  });

  if (idx === 1){
    stormNames.forEach((nm,si)=>{
      const cx = xAxis(stormLons[si],left), cy = yAxis(stormLats[si],top,bottom);
      const s = make('g', {}, g);
      
      
      make('path', {d:`M${cx-1} ${cy-10}C${cx+6} ${cy-9} ${cx+7} ${cy-4} ${cx+6} ${cy}C${cx+6} ${cy+5} ${cx+3} ${cy+8} ${cx+1} ${cy+10}C${cx-6} ${cy+9} ${cx-7} ${cy+4} ${cx-6} ${cy}C${cx-6} ${cy-5} ${cx-3} ${cy-8} ${cx-1} ${cy-10}Z`,fill:'#d00010',stroke:'#000','stroke-width':1.2}, s);
      const lb = make('text', {x:cx,y:cy+3.5,'font-size':9.5,'font-weight':'bold','text-anchor':'middle',style:'fill:#fff'}, s);
      lb.textContent = nm;
    });
  }

  // Axes frame
  const frame = make('g', {stroke:'#000'}, g);
  
  
  make('line', {x1:left-1,x2:right+1,y1:top,y2:top,'stroke-width':3}, frame);
  make('line', {x1:left-1,x2:right+1,y1:bottom,y2:bottom,'stroke-width':3}, frame);
  make('line', {x1:left,x2:left,y1:top,y2:bottom,'stroke-width':2}, frame);
  make('line', {x1:right,x2:right,y1:top,y2:bottom,'stroke-width':2}, frame);
  for (let lon=60;lon<=240;lon+=10){
    const major = lonTicks.includes(lon), x=xAxis(lon,left), len=major?5:2.5;
    make('line', {x1:x,x2:x,y1:top-len,y2:top,'stroke-width':major?2:1}, frame);
    make('line', {x1:x,x2:x,y1:bottom,y2:bottom+len,'stroke-width':major?2:1}, frame);
  }
  for (let lat=-20;lat<=20;lat+=2){
    const major = latTicks.includes(lat), y=yAxis(lat,top,bottom), len=major?5:2.5;
    make('line', {x1:left-len,x2:left,y1:y,y2:y,'stroke-width':major?2:1}, frame);
    make('line', {x1:right,x2:right+len,y1:y,y2:y,'stroke-width':major?2:1}, frame);
  }

  const ttl = make('text', {x:left-1,y:top-14,'font-size':34.6}, g);
  
  
  ttl.textContent = panelTitles[idx];

  if (colIdx === 0){
    latTicks.forEach((lat,ti)=>{
      const t = make('text', {x:74,y:yAxis(lat,top,bottom)+12.5,'font-size':34.6,'text-anchor':'end'}, g);
      
      
      t.textContent = latTickLabels[ti];
    });
  }
  if (rowIdx === 3){
    lonTicks.forEach((lon,ti)=>{
      const t = make('text', {x:xAxis(lon,left),y:940,'font-size':34.6,'text-anchor':'middle'}, g);
      
      
      t.textContent = lonTickLabels[ti];
    });
  }
});

const obs = make('text', {x:737,y:38,'font-size':34.6,'text-anchor':'end'}, root);


obs.textContent = 'Observed';
const cfs = make('text', {x:1478,y:38,'font-size':34.6,'text-anchor':'end'}, root);


cfs.textContent = 'CFS Forecast';

// Colour bar
const cb = document.getElementById('colorbar');
const cbX = 229.5, cbW = 603, cbY = 1002.5, cbH = 24;
const boxW = cbW / colorbarColors.length;
colorbarColors.forEach((col,i)=>{
  const r = make('rect', {x:cbX+i*boxW,y:cbY,width:boxW,height:cbH,fill:col,stroke:'#000','stroke-width':1.2}, cb);
  
  
});
colorbarLabels.forEach((lab,i)=>{
  const t = make('text', {x:cbX+(i+1)*boxW,y:1055,'font-size':30.4,'text-anchor':'middle'}, cb);
  
  
  t.textContent = lab;
});
</script>
</body>
</html>
